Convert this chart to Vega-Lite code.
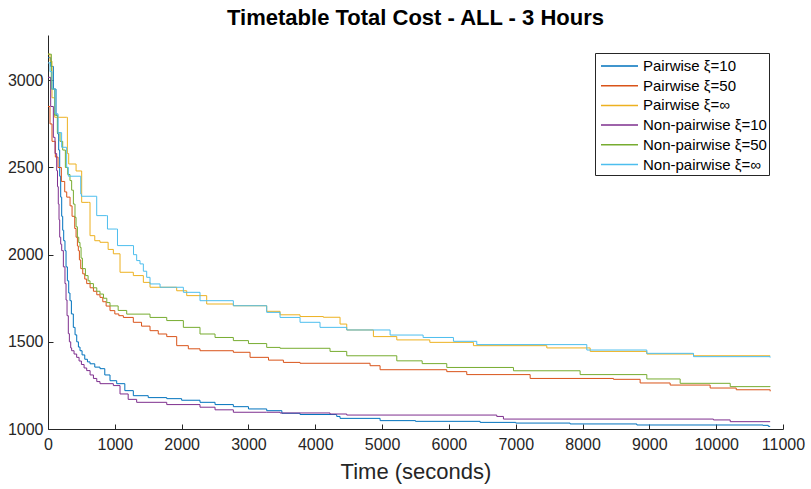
{
  "$schema": "https://vega.github.io/schema/vega-lite/v6.json",
  "width": 735,
  "height": 394,
  "autosize": "none",
  "padding": {"left": 48, "top": 35, "right": 28, "bottom": 60},
  "background": "white",
  "config": {
    "font": "Liberation Sans",
    "view": {"stroke": null},
    "axis": {"grid": false, "domainColor": "#262626", "tickColor": "#262626", "labelColor": "#262626", "titleColor": "#262626", "labelFont": "Liberation Sans", "titleFont": "Liberation Sans"}
  },
  "title": {"text": "Timetable Total Cost - ALL - 3 Hours", "fontSize": 22, "fontWeight": "bold", "color": "#000000", "offset": 5, "anchor": "middle"},
  "data": {"values": [
    {"series":"P10","t":0,"cost":3130},{"series":"P10","t":40,"cost":3080},{"series":"P10","t":80,"cost":2950},{"series":"P10","t":120,"cost":2800},{"series":"P10","t":145,"cost":2693},{"series":"P10","t":160,"cost":2600},{"series":"P10","t":175,"cost":2450},{"series":"P10","t":190,"cost":2330},{"series":"P10","t":205,"cost":2220},{"series":"P10","t":220,"cost":2140},{"series":"P10","t":235,"cost":2080},{"series":"P10","t":254,"cost":2023},{"series":"P10","t":270,"cost":1930},{"series":"P10","t":290,"cost":1850},{"series":"P10","t":310,"cost":1780},{"series":"P10","t":329,"cost":1736},{"series":"P10","t":350,"cost":1660},{"series":"P10","t":379,"cost":1583},{"series":"P10","t":405,"cost":1540},{"series":"P10","t":430,"cost":1500},{"series":"P10","t":455,"cost":1470},{"series":"P10","t":479,"cost":1449},{"series":"P10","t":510,"cost":1425},{"series":"P10","t":550,"cost":1400},{"series":"P10","t":590,"cost":1385},{"series":"P10","t":629,"cost":1374},{"series":"P10","t":700,"cost":1355},{"series":"P10","t":778,"cost":1346},{"series":"P10","t":850,"cost":1310},{"series":"P10","t":928,"cost":1277},{"series":"P10","t":1028,"cost":1260},{"series":"P10","t":1150,"cost":1220},{"series":"P10","t":1277,"cost":1191},{"series":"P10","t":1500,"cost":1180},{"series":"P10","t":1777,"cost":1174},{"series":"P10","t":2000,"cost":1165},{"series":"P10","t":2275,"cost":1153},{"series":"P10","t":2500,"cost":1140},{"series":"P10","t":2774,"cost":1128},{"series":"P10","t":3000,"cost":1115},{"series":"P10","t":3273,"cost":1105},{"series":"P10","t":3500,"cost":1090},{"series":"P10","t":3772,"cost":1083},{"series":"P10","t":4321,"cost":1072},{"series":"P10","t":4371,"cost":1061},{"series":"P10","t":4970,"cost":1048},{"series":"P10","t":5500,"cost":1044},{"series":"P10","t":6467,"cost":1038},{"series":"P10","t":7000,"cost":1034},{"series":"P10","t":7814,"cost":1029},{"series":"P10","t":8812,"cost":1023},{"series":"P10","t":10700,"cost":1021},{"series":"P10","t":10780,"cost":1015},{"series":"P10","t":10808,"cost":1015},
    {"series":"P50","t":0,"cost":2850},{"series":"P50","t":30,"cost":2750},{"series":"P50","t":60,"cost":2650},{"series":"P50","t":110,"cost":2560},{"series":"P50","t":150,"cost":2500},{"series":"P50","t":200,"cost":2420},{"series":"P50","t":250,"cost":2360},{"series":"P50","t":280,"cost":2330},{"series":"P50","t":330,"cost":2280},{"series":"P50","t":360,"cost":2220},{"series":"P50","t":400,"cost":2150},{"series":"P50","t":420,"cost":2100},{"series":"P50","t":440,"cost":2050},{"series":"P50","t":454,"cost":2023},{"series":"P50","t":470,"cost":1970},{"series":"P50","t":490,"cost":1920},{"series":"P50","t":520,"cost":1890},{"series":"P50","t":550,"cost":1860},{"series":"P50","t":579,"cost":1834},{"series":"P50","t":630,"cost":1810},{"series":"P50","t":680,"cost":1790},{"series":"P50","t":730,"cost":1770},{"series":"P50","t":778,"cost":1755},{"series":"P50","t":820,"cost":1730},{"series":"P50","t":870,"cost":1705},{"series":"P50","t":928,"cost":1679},{"series":"P50","t":1000,"cost":1660},{"series":"P50","t":1060,"cost":1650},{"series":"P50","t":1128,"cost":1640},{"series":"P50","t":1277,"cost":1612},{"series":"P50","t":1400,"cost":1590},{"series":"P50","t":1527,"cost":1564},{"series":"P50","t":1650,"cost":1545},{"series":"P50","t":1777,"cost":1530},{"series":"P50","t":1926,"cost":1478},{"series":"P50","t":2100,"cost":1460},{"series":"P50","t":2275,"cost":1449},{"series":"P50","t":2774,"cost":1440},{"series":"P50","t":3024,"cost":1411},{"series":"P50","t":3300,"cost":1395},{"series":"P50","t":3523,"cost":1382},{"series":"P50","t":3772,"cost":1377},{"series":"P50","t":4820,"cost":1363},{"series":"P50","t":4970,"cost":1340},{"series":"P50","t":5968,"cost":1329},{"series":"P50","t":6267,"cost":1312},{"series":"P50","t":7216,"cost":1290},{"series":"P50","t":8463,"cost":1285},{"series":"P50","t":8862,"cost":1264},{"series":"P50","t":9311,"cost":1252},{"series":"P50","t":9910,"cost":1235},{"series":"P50","t":10300,"cost":1225},{"series":"P50","t":10808,"cost":1216},
    {"series":"PInf","t":0,"cost":3150},{"series":"PInf","t":30,"cost":3110},{"series":"PInf","t":60,"cost":2900},{"series":"PInf","t":100,"cost":2788},{"series":"PInf","t":275,"cost":2788},{"series":"PInf","t":290,"cost":2580},{"series":"PInf","t":310,"cost":2520},{"series":"PInf","t":420,"cost":2480},{"series":"PInf","t":480,"cost":2480},{"series":"PInf","t":504,"cost":2300},{"series":"PInf","t":604,"cost":2300},{"series":"PInf","t":629,"cost":2109},{"series":"PInf","t":700,"cost":2080},{"series":"PInf","t":778,"cost":2071},{"series":"PInf","t":900,"cost":2030},{"series":"PInf","t":978,"cost":2005},{"series":"PInf","t":1078,"cost":1899},{"series":"PInf","t":1277,"cost":1880},{"series":"PInf","t":1427,"cost":1841},{"series":"PInf","t":1527,"cost":1813},{"series":"PInf","t":1926,"cost":1793},{"series":"PInf","t":2076,"cost":1765},{"series":"PInf","t":2375,"cost":1717},{"series":"PInf","t":2774,"cost":1707},{"series":"PInf","t":3273,"cost":1675},{"series":"PInf","t":3473,"cost":1655},{"series":"PInf","t":3772,"cost":1645},{"series":"PInf","t":4121,"cost":1641},{"series":"PInf","t":4371,"cost":1602},{"series":"PInf","t":4471,"cost":1568},{"series":"PInf","t":4870,"cost":1530},{"series":"PInf","t":5220,"cost":1511},{"series":"PInf","t":5714,"cost":1497},{"series":"PInf","t":6367,"cost":1478},{"series":"PInf","t":7465,"cost":1465},{"series":"PInf","t":8114,"cost":1445},{"series":"PInf","t":8962,"cost":1430},{"series":"PInf","t":9661,"cost":1420},{"series":"PInf","t":10808,"cost":1420},
    {"series":"N10","t":0,"cost":3017},{"series":"N10","t":40,"cost":2850},{"series":"N10","t":80,"cost":2673},{"series":"N10","t":105,"cost":2580},{"series":"N10","t":130,"cost":2482},{"series":"N10","t":142,"cost":2390},{"series":"N10","t":154,"cost":2291},{"series":"N10","t":165,"cost":2200},{"series":"N10","t":175,"cost":2100},{"series":"N10","t":190,"cost":2060},{"series":"N10","t":205,"cost":2023},{"series":"N10","t":230,"cost":1930},{"series":"N10","t":254,"cost":1834},{"series":"N10","t":270,"cost":1740},{"series":"N10","t":285,"cost":1650},{"series":"N10","t":304,"cost":1547},{"series":"N10","t":320,"cost":1500},{"series":"N10","t":340,"cost":1465},{"series":"N10","t":354,"cost":1449},{"series":"N10","t":390,"cost":1430},{"series":"N10","t":429,"cost":1411},{"series":"N10","t":465,"cost":1390},{"series":"N10","t":500,"cost":1370},{"series":"N10","t":540,"cost":1350},{"series":"N10","t":579,"cost":1335},{"series":"N10","t":630,"cost":1310},{"series":"N10","t":680,"cost":1290},{"series":"N10","t":730,"cost":1272},{"series":"N10","t":778,"cost":1260},{"series":"N10","t":978,"cost":1249},{"series":"N10","t":1078,"cost":1201},{"series":"N10","t":1200,"cost":1170},{"series":"N10","t":1327,"cost":1153},{"series":"N10","t":1777,"cost":1140},{"series":"N10","t":2275,"cost":1125},{"series":"N10","t":2500,"cost":1110},{"series":"N10","t":2774,"cost":1096},{"series":"N10","t":3273,"cost":1096},{"series":"N10","t":3472,"cost":1092},{"series":"N10","t":4221,"cost":1086},{"series":"N10","t":4471,"cost":1080},{"series":"N10","t":6716,"cost":1072},{"series":"N10","t":6816,"cost":1057},{"series":"N10","t":9959,"cost":1052},{"series":"N10","t":10210,"cost":1042},{"series":"N10","t":10808,"cost":1042},
    {"series":"N50","t":0,"cost":3150},{"series":"N50","t":50,"cost":2950},{"series":"N50","t":100,"cost":2800},{"series":"N50","t":140,"cost":2700},{"series":"N50","t":180,"cost":2650},{"series":"N50","t":220,"cost":2600},{"series":"N50","t":260,"cost":2500},{"series":"N50","t":295,"cost":2460},{"series":"N50","t":329,"cost":2425},{"series":"N50","t":354,"cost":2370},{"series":"N50","t":380,"cost":2290},{"series":"N50","t":404,"cost":2214},{"series":"N50","t":420,"cost":2160},{"series":"N50","t":440,"cost":2100},{"series":"N50","t":460,"cost":2070},{"series":"N50","t":479,"cost":2042},{"series":"N50","t":495,"cost":1980},{"series":"N50","t":515,"cost":1920},{"series":"N50","t":560,"cost":1880},{"series":"N50","t":600,"cost":1850},{"series":"N50","t":629,"cost":1834},{"series":"N50","t":680,"cost":1810},{"series":"N50","t":730,"cost":1790},{"series":"N50","t":778,"cost":1774},{"series":"N50","t":830,"cost":1750},{"series":"N50","t":880,"cost":1725},{"series":"N50","t":928,"cost":1706},{"series":"N50","t":1050,"cost":1680},{"series":"N50","t":1178,"cost":1659},{"series":"N50","t":1527,"cost":1640},{"series":"N50","t":1777,"cost":1622},{"series":"N50","t":2026,"cost":1583},{"series":"N50","t":2275,"cost":1545},{"series":"N50","t":2500,"cost":1525},{"series":"N50","t":2774,"cost":1507},{"series":"N50","t":3000,"cost":1490},{"series":"N50","t":3273,"cost":1468},{"series":"N50","t":3473,"cost":1463},{"series":"N50","t":4221,"cost":1445},{"series":"N50","t":4471,"cost":1420},{"series":"N50","t":5220,"cost":1391},{"series":"N50","t":5600,"cost":1375},{"series":"N50","t":5968,"cost":1353},{"series":"N50","t":6966,"cost":1334},{"series":"N50","t":7964,"cost":1312},{"series":"N50","t":8962,"cost":1287},{"series":"N50","t":9461,"cost":1262},{"series":"N50","t":10210,"cost":1243},{"series":"N50","t":10808,"cost":1241},
    {"series":"NInf","t":0,"cost":3100},{"series":"NInf","t":30,"cost":3050},{"series":"NInf","t":60,"cost":2950},{"series":"NInf","t":105,"cost":2808},{"series":"NInf","t":150,"cost":2700},{"series":"NInf","t":204,"cost":2616},{"series":"NInf","t":279,"cost":2501},{"series":"NInf","t":304,"cost":2450},{"series":"NInf","t":479,"cost":2450},{"series":"NInf","t":490,"cost":2348},{"series":"NInf","t":500,"cost":2335},{"series":"NInf","t":704,"cost":2335},{"series":"NInf","t":729,"cost":2224},{"series":"NInf","t":878,"cost":2224},{"series":"NInf","t":890,"cost":2147},{"series":"NInf","t":1028,"cost":2147},{"series":"NInf","t":1040,"cost":2052},{"series":"NInf","t":1227,"cost":2052},{"series":"NInf","t":1280,"cost":2000},{"series":"NInf","t":1327,"cost":1966},{"series":"NInf","t":1377,"cost":1947},{"series":"NInf","t":1427,"cost":1905},{"series":"NInf","t":1477,"cost":1870},{"series":"NInf","t":1527,"cost":1832},{"series":"NInf","t":1677,"cost":1813},{"series":"NInf","t":2026,"cost":1784},{"series":"NInf","t":2275,"cost":1736},{"series":"NInf","t":2774,"cost":1707},{"series":"NInf","t":3273,"cost":1669},{"series":"NInf","t":3473,"cost":1640},{"series":"NInf","t":3772,"cost":1612},{"series":"NInf","t":4071,"cost":1583},{"series":"NInf","t":4471,"cost":1568},{"series":"NInf","t":5120,"cost":1539},{"series":"NInf","t":5614,"cost":1525},{"series":"NInf","t":6068,"cost":1503},{"series":"NInf","t":6417,"cost":1484},{"series":"NInf","t":8064,"cost":1453},{"series":"NInf","t":8962,"cost":1434},{"series":"NInf","t":9661,"cost":1415},{"series":"NInf","t":10808,"cost":1410}
  ]},
  "mark": {"type": "line", "interpolate": "step-after", "strokeWidth": 1, "clip": true},
  "encoding": {
    "x": {"field": "t", "type": "quantitative", "scale": {"domain": [0, 11000], "nice": false},
      "axis": {"title": "Time (seconds)", "values": [0,1000,2000,3000,4000,5000,6000,7000,8000,9000,10000,11000], "format": "d", "tickSize": -5, "labelFontSize": 16, "labelPadding": 12, "titleFontSize": 22, "titleFontWeight": "normal", "titlePadding": 9, "labelFlush": false, "domainWidth": 1}},
    "y": {"field": "cost", "type": "quantitative", "scale": {"domain": [1000, 3260], "nice": false, "zero": false},
      "axis": {"title": null, "values": [1000,1500,2000,2500,3000], "format": "d", "tickSize": -5, "labelFontSize": 16, "labelPadding": 10, "domainWidth": 1}},
    "color": {"field": "series", "type": "nominal",
      "scale": {"domain": ["P10","P50","PInf","N10","N50","NInf"], "range": ["#0072BD","#D95319","#EDB120","#7E2F8E","#77AC30","#4DBEEE"]},
      "legend": {"title": null, "orient": "none", "legendX": 547, "legendY": 18,
        "labelExpr": "{'P10':'Pairwise ξ=10\u00a0','P50':'Pairwise ξ=50\u00a0','PInf':'Pairwise ξ=∞\u00a0','N10':'Non-pairwise ξ=10\u00a0','N50':'Non-pairwise ξ=50\u00a0','NInf':'Non-pairwise ξ=∞\u00a0'}[datum.value]",
        "symbolType": "M-0.7,0H3", "symbolSize": 400, "symbolStrokeWidth": 1.5, "labelFontSize": 15, "labelColor": "#000000", "labelOffset": 24,
        "strokeColor": "#262626", "fillColor": "white", "padding": 2, "rowPadding": 0.7, "labelLimit": 300}},
    "order": {"field": "t", "type": "quantitative"}
  }
}
